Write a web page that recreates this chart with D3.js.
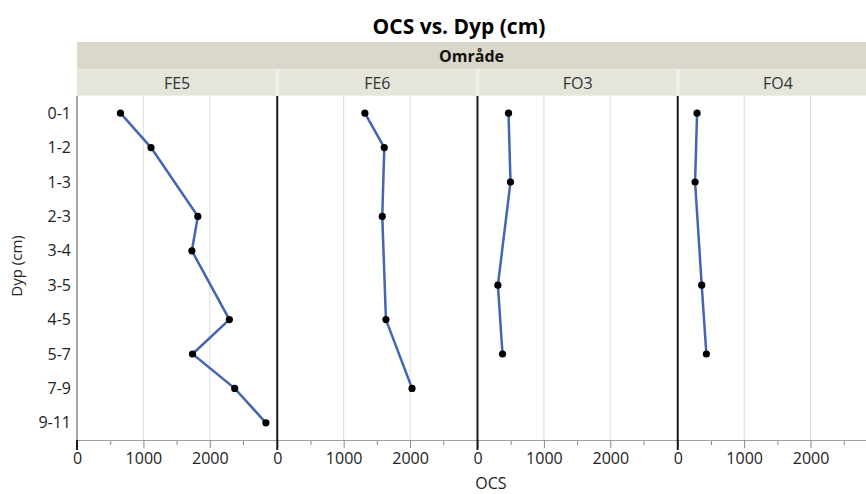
<!DOCTYPE html>
<html>
<head>
<meta charset="utf-8">
<script src="https://cdn.jsdelivr.net/npm/d3@7"></script>
<style>
  html, body { margin: 0; padding: 0; background: #fff; }
  svg { display: block; font-family: "Open Sans", "Noto Sans", sans-serif; }
</style>
</head>
<body>
<svg id="chart" width="866" height="494"></svg>
<script>
// Depth intervals (cm), top to bottom
const depthLabels = ["0-1", "1-2", "1-3", "2-3", "3-4", "3-5", "4-5", "5-7", "7-9", "9-11"];
// Sampling areas, one panel each
const areas = ["FE5", "FE6", "FO3", "FO4"];

// OCS per depth for each area
const fe5Depths = ["0-1", "1-2", "2-3", "3-4", "4-5", "5-7", "7-9", "9-11"];
const fe5Ocs    = [655, 1115, 1820, 1730, 2295, 1740, 2375, 2845];

const fe6Depths = ["0-1", "1-2", "2-3", "4-5", "7-9"];
const fe6Ocs    = [1320, 1612, 1582, 1637, 2030];

const fo3Depths = ["0-1", "1-3", "3-5", "5-7"];
const fo3Ocs    = [467, 497, 307, 377];

const fo4Depths = ["0-1", "1-3", "3-5", "5-7"];
const fo4Ocs    = [291, 261, 361, 431];

const xMajorTicks = [0, 1000, 2000];
const xMinorTicks = [500, 1500, 2500];
const xMax = 3016;

const series = [
  { area: "FE5", depths: fe5Depths, values: fe5Ocs },
  { area: "FE6", depths: fe6Depths, values: fe6Ocs },
  { area: "FO3", depths: fo3Depths, values: fo3Ocs },
  { area: "FO4", depths: fo4Depths, values: fo4Ocs }
];

const svg = d3.select("#chart");
const plotTop = 96, plotBottom = 440, plotLeft = 77;
const panelStep = 200.25;
const labelFont = "\"Open Sans\", \"Noto Sans\", sans-serif";

const panel = d3.scaleBand().domain(areas).range([plotLeft, plotLeft + panelStep * areas.length]).padding(0);
const y = d3.scalePoint().domain(depthLabels).range([plotTop, plotBottom]).padding(0.5);

// Title
svg.append("text")
  .attr("x", 459).attr("y", 34)
  .attr("text-anchor", "middle")
  .attr("font-size", 21).attr("font-weight", "bold").attr("fill", "#000")
  .text("OCS vs. Dyp (cm)");

// Group header strip
svg.append("rect")
  .attr("x", plotLeft).attr("y", 42).attr("width", 866 - plotLeft).attr("height", 27)
  .attr("fill", "#dad8cb");
svg.append("text")
  .attr("x", (plotLeft + 866) / 2).attr("y", 62)
  .attr("text-anchor", "middle")
  .attr("font-size", 16).attr("font-weight", "bold").attr("fill", "#111")
  .text("Område");

// Panel header strips
svg.append("rect")
  .attr("x", plotLeft).attr("y", 69).attr("width", 866 - plotLeft).attr("height", 27)
  .attr("fill", "#efefe9");
areas.forEach((a, i) => {
  const x0 = panel(a);
  svg.append("rect")
    .attr("x", x0 + (i === 0 ? 0 : 2)).attr("y", 70)
    .attr("width", panel.bandwidth() - (i === 0 ? 2 : 4)).attr("height", 25)
    .attr("fill", "#e5e5dc");
  svg.append("text")
    .attr("x", x0 + panel.bandwidth() / 2).attr("y", 89)
    .attr("text-anchor", "middle")
    .attr("font-size", 16).attr("fill", "#333")
    .text(a);
});

// Panels
series.forEach((s, i) => {
  const x0 = panel(s.area);
  const x = d3.scaleLinear().domain([0, xMax]).range([x0, x0 + panel.bandwidth()]);
  const g = svg.append("g");

  // gridlines
  g.selectAll("line.grid").data(xMajorTicks.filter(t => t > 0)).join("line")
    .attr("class", "grid")
    .attr("x1", d => x(d)).attr("x2", d => x(d))
    .attr("y1", plotTop).attr("y2", plotBottom)
    .attr("stroke", "#dcdcdc").attr("stroke-width", 1);

  // minor ticks
  const minorAxis = d3.axisBottom(x).tickValues(xMinorTicks).tickSize(5).tickFormat("");
  const gMinor = g.append("g").attr("transform", `translate(0,${plotBottom})`).call(minorAxis);
  gMinor.select(".domain").remove();
  gMinor.selectAll(".tick line").attr("stroke", "#8a8a8a");

  // major ticks and labels
  const majorAxis = d3.axisBottom(x).tickValues(xMajorTicks).tickSize(8).tickPadding(5).tickFormat(d3.format("d"));
  const gMajor = g.append("g").attr("transform", `translate(0,${plotBottom})`).call(majorAxis);
  gMajor.select(".domain").attr("stroke", "#a0a0a0").attr("d", `M${x0},0.5H${x0 + panel.bandwidth()}`);
  gMajor.selectAll(".tick line").attr("stroke", "#8a8a8a");
  gMajor.selectAll(".tick text").attr("font-size", 16).attr("fill", "#222")
    .attr("font-family", labelFont);

  // panel left edge
  g.append("line")
    .attr("x1", x(0)).attr("x2", x(0))
    .attr("y1", plotTop).attr("y2", plotBottom + 10)
    .attr("stroke", "#1a1a1a").attr("stroke-width", 2);

  // series line
  const pts = s.depths.map((d, k) => ({ depth: d, value: s.values[k] }));
  const line = d3.line().x(d => x(d.value)).y(d => y(d.depth));
  g.append("path").datum(pts)
    .attr("d", line)
    .attr("fill", "none").attr("stroke", "#4465b3").attr("stroke-width", 2.5);

  g.selectAll("circle").data(pts).join("circle")
    .attr("cx", d => x(d.value)).attr("cy", d => y(d.depth))
    .attr("r", 3.6).attr("fill", "#000");
});

// Left y-axis line (grey) over the first panel edge
svg.append("line")
  .attr("x1", plotLeft).attr("x2", plotLeft)
  .attr("y1", plotTop).attr("y2", plotBottom)
  .attr("stroke", "#a8a8a8").attr("stroke-width", 2);

// Y axis labels
const yAxis = d3.axisLeft(y).tickSize(0).tickPadding(6);
const gy = svg.append("g").attr("transform", `translate(${plotLeft},0)`).call(yAxis);
gy.select(".domain").remove();
gy.selectAll(".tick text").attr("font-size", 16).attr("fill", "#222")
  .attr("font-family", labelFont);

// Axis titles
svg.append("text")
  .attr("transform", `translate(22,266) rotate(-90)`)
  .attr("text-anchor", "middle")
  .attr("font-size", 15).attr("fill", "#222")
  .text("Dyp (cm)");

svg.append("text")
  .attr("x", 491).attr("y", 489)
  .attr("text-anchor", "middle")
  .attr("font-size", 16).attr("fill", "#222")
  .text("OCS");
</script>
</body>
</html>
